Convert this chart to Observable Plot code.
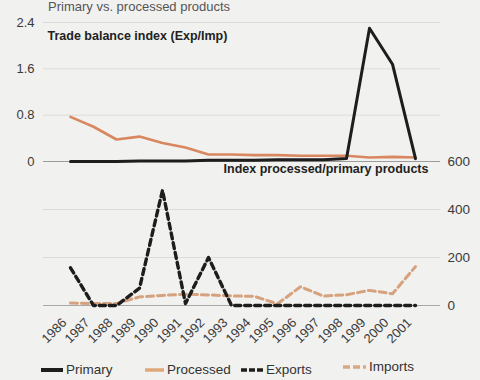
<!DOCTYPE html>
<html>
<head>
<meta charset="utf-8">
<script src="https://cdn.jsdelivr.net/npm/d3@7"></script>
<script src="https://cdn.jsdelivr.net/npm/@observablehq/plot@0.6"></script>
<style>
  html, body { margin: 0; padding: 0; background: #f1f1ef; }
  #wrap { position: relative; width: 480px; height: 380px; overflow: hidden;
          font-family: "Liberation Sans", Arial, sans-serif; color: #333; }
  #wrap .layer { position: absolute; left: 0; top: 0; }
  #title { position: absolute; left: 48px; top: 0px; font-size: 13px; color: #555; white-space: nowrap; line-height: 13px; }
  .leg { position: absolute; top: 362px; display: flex; align-items: center; font-size: 13.5px; color: #333; white-space: nowrap; }
  .leg svg { margin-right: 2px; }
</style>
</head>
<body>
<div id="wrap">
  <div id="title">Primary vs. processed products</div>
  <div id="top" class="layer"></div>
  <div id="bot" class="layer"></div>
  <div class="leg" style="left:40px"><svg width="24" height="8"><line x1="1" y1="4" x2="23" y2="4" stroke="#1d1d1d" stroke-width="4"/></svg>Primary</div>
  <div class="leg" style="left:144px"><svg width="21" height="8"><line x1="1" y1="4" x2="20" y2="4" stroke="#e0a878" stroke-width="3.5"/></svg>Processed</div>
  <div class="leg" style="left:240px"><svg width="24" height="8"><line x1="1" y1="4" x2="23" y2="4" stroke="#1d1d1d" stroke-width="3.5" stroke-dasharray="6,2"/></svg>Exports</div>
  <div class="leg" style="left:342px;top:359px"><svg width="25" height="8"><line x1="1" y1="4" x2="24" y2="4" stroke="#d9a882" stroke-width="3.5" stroke-dasharray="7,3"/></svg>Imports</div>
</div>
<script>
const years = [1986, 1987, 1988, 1989, 1990, 1991, 1992, 1993, 1994, 1995, 1996, 1997, 1998, 1999, 2000, 2001];
// Trade balance index (Exp/Imp)
const primary   = [0.00, 0.00, 0.00, 0.01, 0.01, 0.01, 0.02, 0.02, 0.02, 0.03, 0.03, 0.03, 0.05, 2.30, 1.68, 0.05];
const processed = [0.77, 0.60, 0.38, 0.43, 0.32, 0.24, 0.12, 0.12, 0.11, 0.11, 0.10, 0.10, 0.10, 0.07, 0.08, 0.07];
// Index processed/primary products
const exportsIdx = [157, 0, 0, 72, 480, 8, 200, 0, 0, 0, 0, 0, 0, 0, 0, 0];
const importsIdx = [10, 8, 8, 36, 42, 47, 44, 40, 38, 7, 78, 39, 45, 63, 49, 162];
const leftTicks = [0, 0.8, 1.6, 2.4];
const rightTicks = [0, 200, 400, 600];
const topLabel = "Trade balance index (Exp/Imp)";
const botLabel = "Index processed/primary products";

const topData = years.map((y, i) => ({year: y, primary: primary[i], processed: processed[i]}));
const botData = years.map((y, i) => ({year: y, exports: exportsIdx[i], imports: importsIdx[i]}));

const W = 480, H = 350;
const font = "Liberation Sans, Arial, sans-serif";
const xScale = {type: "point", domain: years, range: [55, 430]};

const pTop = Plot.plot({
  width: W, height: H,
  marginTop: 22, marginBottom: H - 161, marginLeft: 43, marginRight: 40,
  style: {background: "transparent", fontFamily: font, fontSize: "13px", color: "#3a3a3a", overflow: "visible"},
  x: {...xScale, axis: null},
  y: {domain: [0, 2.4], axis: null},
  marks: [
    Plot.ruleY(leftTicks.slice(1), {stroke: "#dcdcda", strokeWidth: 1}),
    Plot.ruleY([0], {stroke: "#9c9c9c", strokeWidth: 1.2}),
    Plot.axisY({ticks: leftTicks, tickSize: 0, tickPadding: 9, fontSize: 13, label: null, tickFormat: d => String(d)}),
    Plot.text([topLabel], {frameAnchor: "top-left", dx: 4, dy: 9, fontWeight: "bold", fontSize: 12.5, fill: "#222"}),
    Plot.line(topData, {x: "year", y: "processed", stroke: "#d8875e", strokeWidth: 2.6}),
    Plot.line(topData, {x: "year", y: "primary", stroke: "#1d1d1d", strokeWidth: 3})
  ]
});
document.getElementById("top").appendChild(pTop);

const pBot = Plot.plot({
  width: W, height: H,
  marginTop: 161, marginBottom: H - 305, marginLeft: 43, marginRight: 40,
  style: {background: "transparent", fontFamily: font, fontSize: "13px", color: "#3a3a3a", overflow: "visible"},
  x: {...xScale, axis: null},
  y: {domain: [0, 600], axis: null},
  marks: [
    Plot.ruleY([200, 400], {stroke: "#dcdcda", strokeWidth: 1}),
    Plot.ruleY([0], {stroke: "#a8a8a8", strokeWidth: 1.2}),
    Plot.axisY({anchor: "right", ticks: rightTicks, tickSize: 0, tickPadding: 7, fontSize: 13.5, label: null}),
    Plot.axisX({ticks: years, tickRotate: -45, tickSize: 0, tickPadding: 15, dx: -6, fontSize: 13, label: null, tickFormat: d => String(d)}),
    Plot.text([botLabel], {frameAnchor: "top-right", dx: -12, dy: 3, fontWeight: "bold", fontSize: 12.5, fill: "#222"}),
    Plot.line(botData, {x: "year", y: "imports", stroke: "#d6a27e", strokeWidth: 3, strokeDasharray: "7,4"}),
    Plot.line(botData, {x: "year", y: "exports", stroke: "#1d1d1d", strokeWidth: 3.4, strokeDasharray: "6,4"})
  ]
});
document.getElementById("bot").appendChild(pBot);
</script>
</body>
</html>
